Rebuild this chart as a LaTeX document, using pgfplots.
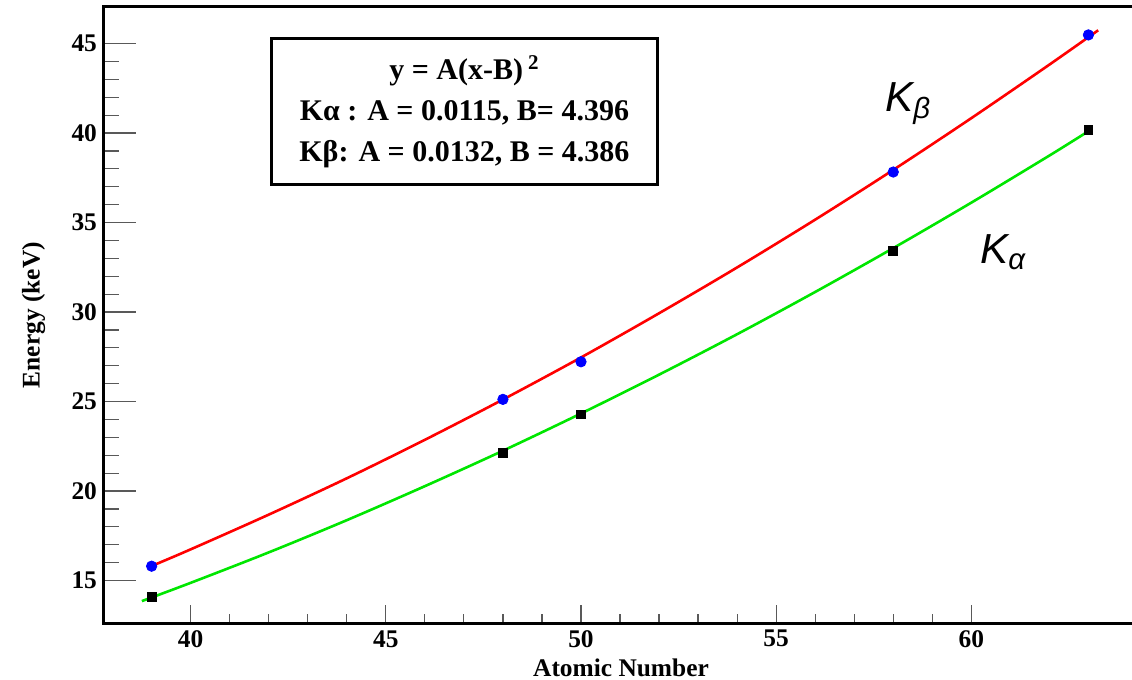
\documentclass[border=0pt]{standalone}
\usepackage{pgfplots}
\pgfplotsset{compat=1.18}
\usepackage{fontspec}
\setmainfont{Liberation Serif}
\setsansfont{Liberation Sans}
\definecolor{fitgreen}{RGB}{0,230,0}
\begin{document}
\begin{tikzpicture}
\begin{axis}[
  at={(0,0)}, anchor=south west,
  scale only axis,
  width=517pt, height=308.15pt,
  xmin=37.78, xmax=64.27,
  ymin=12.61, ymax=47.04,
  xtick={40,45,50,55,60},
  ytick={15,20,25,30,35,40,45},
  minor tick num=4,
  xtick pos=bottom, ytick pos=left,
  tick align=inside,
  axis line style={line width=1.5pt},
  xtick style={color=black!65, line width=0.6pt, /pgfplots/major tick length=9pt, /pgfplots/minor tick length=4.5pt},
  ytick style={color=black!65, line width=0.6pt, /pgfplots/major tick length=16pt, /pgfplots/minor tick length=7.5pt},
  /pgf/number format/assume math mode=true,
  tick label style={font=\rmfamily\bfseries\fontsize{12.7}{14}\selectfont},
  xlabel={Atomic Number},
  ylabel={Energy (keV)},
  label style={font=\rmfamily\bfseries\fontsize{12.7}{14}\selectfont},
  xlabel style={at={(axis description cs:0.5,0)}, anchor=base, yshift=-26.5pt},
  ylabel style={at={(axis description cs:0,0.5)}, anchor=center, yshift=35.25pt},
  clip=false,
]
% fit curves
\addplot[red, line width=1.3pt, no marks, smooth] coordinates {
(39,15.81) (40,16.74) (42,18.68) (44,20.71) (46,22.86) (48,25.11) (50,27.46)
(52,29.93) (54,32.49) (56,35.16) (58,37.94) (60,40.83) (62,43.82) (63.25,45.74)};
\addplot[fitgreen, line width=1.3pt, no marks, smooth] coordinates {
(38.75,13.85) (40,14.87) (42,16.57) (44,18.37) (46,20.27) (48,22.25) (50,24.33)
(52,26.50) (54,28.76) (56,31.12) (58,33.57) (60,36.11) (62,38.74) (63,40.10)};
% data points
\addplot[only marks, mark=*, mark size=2.6pt, color=blue] coordinates {
(39,15.8) (48,25.12) (50,27.22) (58,37.82) (63,45.48)};
\addplot[only marks, mark=square*, mark size=2.2pt, color=black] coordinates {
(39,14.1) (48,22.15) (50,24.28) (58,33.42) (63,40.17)};
% annotations
\node[anchor=base west, font=\fontsize{21}{25}\selectfont\sffamily\itshape, inner sep=0pt] at (axis cs:57.79,41.19) {K\textsubscript{β}};
\node[anchor=base west, font=\fontsize{21}{25}\selectfont\sffamily\itshape, inner sep=0pt] at (axis cs:60.22,32.72) {K\textsubscript{α}};
\node[draw, line width=1.5pt, anchor=north west, minimum width=193pt, minimum height=73pt, align=center, fill=white,
      font=\fontsize{15}{20.5}\selectfont\bfseries] at (axis cs:42.03,45.36)
  {y = A(x-B)\,\textsuperscript{2}\\Kα : A = 0.0115, B= 4.396\\Kβ: A = 0.0132, B = 4.386};
\end{axis}
\pgfresetboundingbox
\path[use as bounding box] (-52pt,-28.35pt) rectangle (514pt,311.65pt);
\end{tikzpicture}
\end{document}
